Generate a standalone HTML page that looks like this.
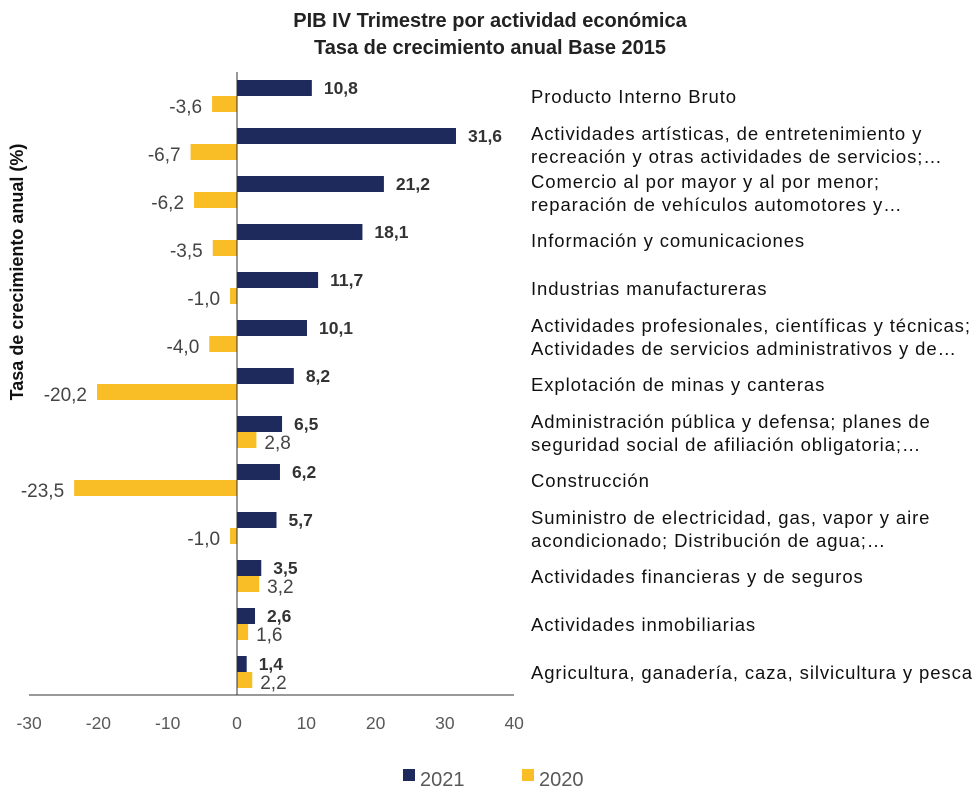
<!DOCTYPE html>
<html><head><meta charset="utf-8"><style>
body{margin:0;background:#fff;}
svg text{font-family:"Liberation Sans",sans-serif;}
</style></head><body>
<svg id="c" width="980" height="807" xmlns="http://www.w3.org/2000/svg">
<text x="490" y="27" text-anchor="middle" font-size="20" font-weight="bold" fill="#222">PIB IV Trimestre por actividad económica</text>
<text x="490" y="54" text-anchor="middle" font-size="20" font-weight="bold" fill="#222">Tasa de crecimiento anual Base 2015</text>
<text transform="translate(23,272) rotate(-90)" text-anchor="middle" font-size="18" font-weight="bold" fill="#111">Tasa de crecimiento anual (%)</text>
<g id="g"></g>
<rect x="403" y="769" width="12" height="12" fill="#1f2a5c"/>
<text x="420" y="786" font-size="20" fill="#595959">2021</text>
<rect x="522" y="769" width="12" height="12" fill="#f9bd26"/>
<text x="539" y="786" font-size="20" fill="#595959">2020</text>
</svg>
<script>
const categories=[["Producto Interno Bruto"],["  Actividades artísticas, de entretenimiento y","recreación y otras actividades de servicios;…"],["  Comercio al por mayor y al por menor;","reparación de vehículos automotores y…"],["Información y comunicaciones"],["Industrias manufactureras"],["Actividades profesionales, científicas y técnicas;","  Actividades de servicios administrativos y de…"],["Explotación de minas y canteras"],["Administración pública y defensa; planes de"," seguridad social de afiliación obligatoria;…"],["Construcción"],["Suministro de electricidad, gas, vapor y aire","   acondicionado; Distribución de agua;…"],["Actividades financieras y de seguros"],["Actividades inmobiliarias"],["Agricultura, ganadería, caza, silvicultura y pesca"]];
const values2021=[10.8,31.6,21.2,18.1,11.7,10.1,8.2,6.5,6.2,5.7,3.5,2.6,1.4];
const values2020=[-3.6,-6.7,-6.2,-3.5,-1.0,-4.0,-20.2,2.8,-23.5,-1.0,3.2,1.6,2.2];
const ticks=[-30,-20,-10,0,10,20,30,40];
const NS="http://www.w3.org/2000/svg";
const g=document.getElementById('g');
const x=v=>237+v*6.93;
const rowY=i=>80+i*48;
function el(t,a){const e=document.createElementNS(NS,t);for(const k in a)e.setAttribute(k,a[k]);g.appendChild(e);return e;}
const fmt=v=>v.toFixed(1).replace('.',',');
ticks.forEach(t=>{const e=el('text',{x:x(t),y:729,'text-anchor':'middle','font-size':17.5,fill:'#595959'});e.textContent=t;

});
categories.forEach((c,i)=>{
 const y=rowY(i);
 const a=values2021[i],b=values2020[i];
 const r1=el('rect',{x:Math.min(x(0),x(a)),y:y,width:Math.abs(x(a)-x(0)),height:16,fill:'#1f2a5c'});
 
 
 const r2=el('rect',{x:Math.min(x(0),x(b)),y:y+16,width:Math.abs(x(b)-x(0)),height:16,fill:'#f9bd26'});
 
 
 const t1=el('text',{x:x(a)+(a>=0?12:-12),y:y+14,'text-anchor':a>=0?'start':'end','font-size':17.5,'font-weight':'bold',fill:'#333'});t1.textContent=fmt(a);
 
 
 const t2=el('text',{x:b>=0?x(b)+8:x(b)-10,y:y+33,'text-anchor':b>=0?'start':'end','font-size':19,fill:'#444'});t2.textContent=fmt(b);
 
 
 const cy=y+16;
 c.forEach((ln,j)=>{const t=el('text',{x:531,y:(c.length===1?cy+7:cy-4+j*23),'font-size':18.5,'letter-spacing':0.9,fill:'#111','xml:space':'preserve'});t.textContent=ln;
 
 });
});
const ax=el('line',{x1:29,x2:514,y1:695,y2:695,stroke:'#333','stroke-width':1});


const ay=el('line',{x1:237,x2:237,y1:72,y2:695,stroke:'#333','stroke-width':1});


</script>
</body></html>
